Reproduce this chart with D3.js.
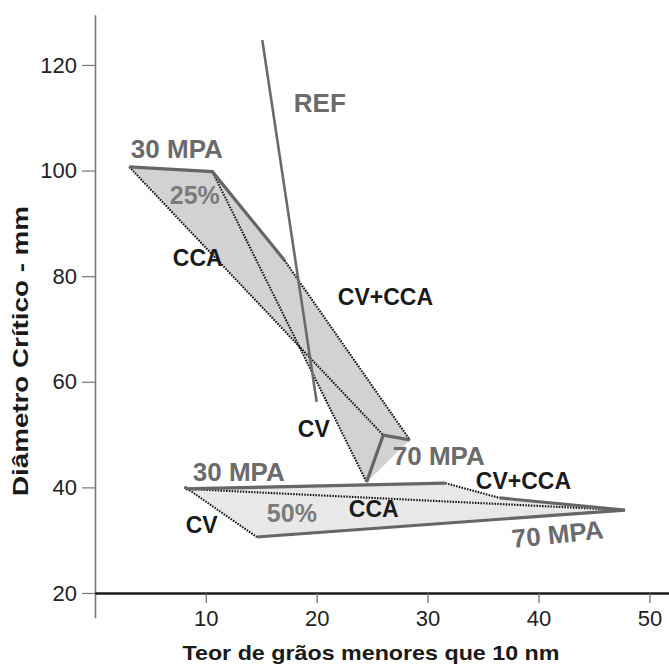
<!DOCTYPE html>
<html>
<head>
<meta charset="utf-8">
<script src="https://cdn.jsdelivr.net/npm/d3@7"></script>
<style>
  body { margin: 0; background: #fff; }
  text { font-family: "Liberation Sans", Arial, sans-serif; }
</style>
</head>
<body>
<div id="chart"></div>
<script>
// mixes, in the order the 70 MPA line joins them
var mixes = ["CV", "CCA", "CV+CCA"];

// 25% series
var teor25at30 = [10.6, 3.1, 17.1];
var diam25at30 = [99.8, 100.7, 83.0];
var teor25at70 = [24.5, 26.0, 28.4];
var diam25at70 = [41.0, 49.9, 49.0];

// 50% series
var teor50at30 = [8.1, 8.3, 31.6];
var diam50at30 = [40.1, 39.7, 40.8];
var teor50at70 = [14.6, 47.8, 36.5];
var diam50at70 = [30.6, 35.7, 38.0];

// reference line
var refTeor = [15.1, 20.0];
var refDiam = [124.7, 56.2];

var xTicks = [10, 20, 30, 40, 50];
var yTicks = [20, 40, 60, 80, 100, 120];

// text annotations (data coords)
var labelText = ["30 MPA", "25%", "CCA", "REF", "CV+CCA", "CV", "70 MPA",
                 "30 MPA", "CV+CCA", "CV", "50%", "CCA", "70 MPA"];
var labelTeor = [3.25, 6.76, 7.03, 17.94, 21.91, 18.30, 26.86,
                 8.83, 34.35, 8.20, 15.51, 22.90, 37.68];
var labelDiam = [102.4, 93.67, 81.93, 111.1, 74.55, 49.55, 44.24,
                 41.21, 39.70, 31.36, 33.45, 34.39, 28.52];
var labelKind = ["mpa", "pct", "mix", "mpa", "mix", "mix", "mpa",
                 "mpa", "mix", "mix", "pct", "mix", "mpa"];

var width = 669, height = 664;

var svg = d3.select("#chart").append("svg")
    .attr("width", width)
    .attr("height", height);

var x = d3.scaleLinear().domain([0, 51.8]).range([94.8, 669.4]);
var y = d3.scaleLinear().domain([15.3, 129.5]).range([617.8, 14.8]);

function pts(tx, dy) {
  return tx.map(function(v, i) { return [v, dy[i]]; });
}

var line = d3.line()
    .x(function(d) { return x(d[0]); })
    .y(function(d) { return y(d[1]); });

function drawGroup(t30, d30, t70, d70, fill) {
  var p30 = pts(t30, d30), p70 = pts(t70, d70);
  var g = svg.append("g");

  // fill: union of quads between each pair of mixes
  var quads = [];
  for (var i = 0; i < p30.length; i++) {
    for (var j = i + 1; j < p30.length; j++) {
      quads.push([p30[i], p30[j], p70[j], p70[i]]);
    }
  }
  g.selectAll(".quad")
      .data(quads)
      .enter().append("path")
      .attr("class", "quad")
      .attr("d", function(d) { return line(d) + "Z"; })
      .attr("fill", fill)
      .attr("stroke", fill)
      .attr("stroke-width", 0.5);

  // dotted curve per mix, from 30 to 70 MPA
  g.selectAll(".mixline")
      .data(mixes)
      .enter().append("path")
      .attr("class", "mixline")
      .attr("d", function(d, i) { return line([p30[i], p70[i]]); })
      .attr("fill", "none")
      .attr("stroke", "#111")
      .attr("stroke-width", 2.1)
      .attr("stroke-dasharray", "1.5,1.3");

  // 30 MPA and 70 MPA solid lines
  var sorted30 = p30.slice().sort(function(a, b) { return a[0] - b[0]; });
  g.append("path")
      .attr("d", line(sorted30))
      .attr("fill", "none")
      .attr("stroke", "#666")
      .attr("stroke-width", 3.2);
  g.append("path")
      .attr("d", line(p70))
      .attr("fill", "none")
      .attr("stroke", "#666")
      .attr("stroke-width", 3.2);
}

drawGroup(teor25at30, diam25at30, teor25at70, diam25at70, "#d2d2d2");
drawGroup(teor50at30, diam50at30, teor50at70, diam50at70, "#e8e8e8");

// REF line
svg.append("path")
    .attr("d", line(pts(refTeor, refDiam)))
    .attr("fill", "none")
    .attr("stroke", "#6a6a6a")
    .attr("stroke-width", 2.6);

// axes
var gy = svg.append("g")
    .attr("transform", "translate(95,0)")
    .call(d3.axisLeft(y).tickValues(yTicks).tickSize(13).tickSizeOuter(0).tickPadding(5));
gy.select(".domain").attr("stroke", "#777").attr("stroke-width", 1.6);
gy.selectAll(".tick line").attr("stroke", "#777").attr("stroke-width", 1.2);
gy.selectAll(".tick text")
    .attr("fill", "#222")
    .style("font-size", "22px")
    .style("font-family", "'Liberation Sans', Arial, sans-serif");

var gx = svg.append("g")
    .attr("transform", "translate(0," + y(20) + ")")
    .call(d3.axisBottom(x).tickValues(xTicks).tickSize(10).tickSizeOuter(0).tickPadding(7));
gx.select(".domain").attr("stroke", "#1a1a1a").attr("stroke-width", 2.6);
gx.selectAll(".tick line").attr("stroke", "#666").attr("stroke-width", 1.2);
gx.selectAll(".tick text")
    .attr("fill", "#222")
    .style("font-size", "22px")
    .style("font-family", "'Liberation Sans', Arial, sans-serif");

// axis titles
svg.append("text")
    .attr("x", 371)
    .attr("y", 660)
    .attr("text-anchor", "middle")
    .attr("textLength", 377)
    .attr("lengthAdjust", "spacingAndGlyphs")
    .style("font-size", "21px")
    .style("font-weight", "bold")
    .attr("fill", "#1a1a1a")
    .text("Teor de grãos menores que 10 nm");

svg.append("text")
    .attr("transform", "translate(28,351)rotate(-90)")
    .attr("text-anchor", "middle")
    .attr("textLength", 290)
    .attr("lengthAdjust", "spacingAndGlyphs")
    .style("font-size", "22px")
    .style("font-weight", "bold")
    .attr("fill", "#1a1a1a")
    .text("Diâmetro Crítico - mm");

// annotations
var kindColor = { mpa: "#6b6b6b", pct: "#7b7b7b", mix: "#1a1a1a" };
var kindSize = { mpa: "26px", pct: "25px", mix: "23px" };

svg.selectAll(".label")
    .data(labelText)
    .enter().append("text")
    .attr("class", "label")
    .attr("transform", function(d, i) {
      var t = "translate(" + x(labelTeor[i]) + "," + y(labelDiam[i]) + ")";
      if (i === labelText.length - 1) t += "rotate(-6)";
      return t;
    })
    .attr("fill", function(d, i) { return kindColor[labelKind[i]]; })
    .style("font-size", function(d, i) { return kindSize[labelKind[i]]; })
    .style("font-weight", "bold")
    .text(function(d) { return d; });
</script>
</body>
</html>
